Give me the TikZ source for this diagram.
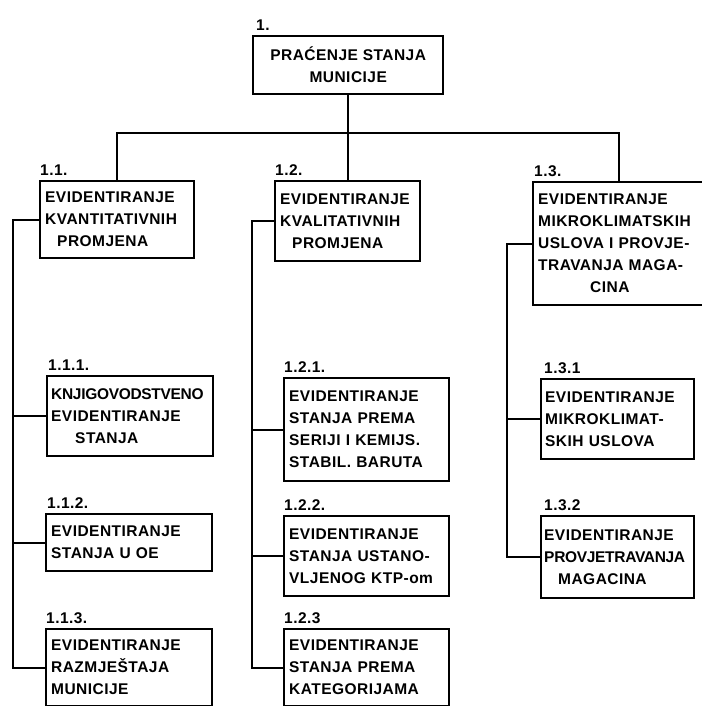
\documentclass[tikz,border=0pt]{standalone}
\usepackage{fontspec}
\setmainfont{Liberation Sans}
\newfontfamily\boxfont[LetterSpace=3]{Liberation Sans Bold}
\newcommand{\tightline}[1]{{\addfontfeature{LetterSpace=-2}#1}}
\usetikzlibrary{positioning}

\tikzset{
	box/.style={draw, line width=2.4pt, anchor=north west, align=left,
		inner xsep=5pt, inner ysep=2pt, font=\boxfont\fontsize{15.5}{22}\selectfont},
	lbl/.style={inner sep=0pt, font=\boxfont\fontsize{15.5}{18}\selectfont},
	conn/.style={line width=1.6pt}
}

\begin{document}
\begin{tikzpicture}[x=1pt,y=1pt]
	\useasboundingbox (0,0) rectangle (701,-706);
	% level 0
	\node[box, align=center, minimum width=190, minimum height=58] (top) at (252,-35) {PRAĆENJE STANJA\\MUNICIJE};
	% level 1
	\node[box, minimum width=154, minimum height=77, text width=144] (b11) at (39,-180) {EVIDENTIRANJE\\KVANTITATIVNIH\\\hspace*{12pt}PROMJENA};
	\node[box, minimum width=145, minimum height=80, text width=135] (b12) at (274,-180) {EVIDENTIRANJE\\KVALITATIVNIH\\\hspace*{12pt}PROMJENA};
	\node[box, minimum width=172, minimum height=123, text width=162] (b13) at (532,-181) {EVIDENTIRANJE\\MIKROKLIMATSKIH\\USLOVA I PROVJE-\\TRAVANJA MAGA-\\\hspace*{52pt}CINA};
	% level 2
	\node[box, minimum width=166, minimum height=80, text width=158, inner xsep=4pt] (b111) at (46,-375) {\tightline{KNJIGOVODSTVENO}\\EVIDENTIRANJE\\\hspace*{24pt}STANJA};
	\node[box, minimum width=166, minimum height=57, text width=156] (b112) at (45,-513) {EVIDENTIRANJE\\STANJA U OE};
	\node[box, minimum width=166, minimum height=77, text width=156] (b113) at (45,-628) {EVIDENTIRANJE\\RAZMJEŠTAJA\\MUNICIJE};
	\node[box, minimum width=165, minimum height=103, text width=155] (b121) at (283,-377) {EVIDENTIRANJE\\STANJA PREMA\\SERIJI I KEMIJS.\\STABIL. BARUTA};
	\node[box, minimum width=165, minimum height=80, text width=155] (b122) at (283,-515) {EVIDENTIRANJE\\STANJA USTANO-\\VLJENOG KTP-om};
	\node[box, minimum width=165, minimum height=77, text width=155] (b123) at (283,-628) {EVIDENTIRANJE\\STANJA PREMA\\KATEGORIJAMA};
	\node[box, minimum width=153, minimum height=80, text width=145, inner xsep=4pt] (b131) at (540,-378) {EVIDENTIRANJE\\MIKROKLIMAT-\\SKIH USLOVA};
	\node[box, minimum width=153, minimum height=82, text width=147, inner xsep=3pt] (b132) at (540,-515) {EVIDENTIRANJE\\\tightline{PROVJETRAVANJA}\\\hspace*{14pt}MAGACINA};
	% numbers
	\node[lbl, above right=4pt and 4pt of top.north west] (l1) {1.};
	\node[lbl, above right=4pt and 1pt of b11.north west] (l11) {1.1.};
	\node[lbl, above right=4pt and 1pt of b12.north west] (l12) {1.2.};
	\node[lbl, above right=4pt and 2pt of b13.north west] (l13) {1.3.};
	\node[lbl, above right=4pt and 2pt of b111.north west] (l111) {1.1.1.};
	\node[lbl, above right=4pt and 2pt of b112.north west] (l112) {1.1.2.};
	\node[lbl, above right=4pt and 1pt of b113.north west] (l113) {1.1.3.};
	\node[lbl, above right=4pt and 1pt of b121.north west] (l121) {1.2.1.};
	\node[lbl, above right=4pt and 1pt of b122.north west] (l122) {1.2.2.};
	\node[lbl, above right=4pt and 1pt of b123.north west] (l123) {1.2.3};
	\node[lbl, above right=4pt and 4pt of b131.north west] (l131) {1.3.1};
	\node[lbl, above right=4pt and 4pt of b132.north west] (l132) {1.3.2};
	% connectors
	\coordinate (bus) at (0,-133);
	\coordinate (s1) at (13,0);
	\coordinate (s2) at (252,0);
	\coordinate (s3) at (507,0);
	\draw[conn] (top.south) -- (top.south |- b12.north);
	\draw[conn] (b11.north) -- (b11.north |- bus) -- (b13.north |- bus) -- (b13.north);
	\draw[conn] (b11.west) -| (s1 |- b113.west) -- (b113.west);
	\draw[conn] (s1 |- b111.west) -- (b111.west);
	\draw[conn] (s1 |- b112.west) -- (b112.west);
	\draw[conn] (b12.west) -| (s2 |- b123.west) -- (b123.west);
	\draw[conn] (s2 |- b121.west) -- (b121.west);
	\draw[conn] (s2 |- b122.west) -- (b122.west);
	\draw[conn] (b13.west) -| (s3 |- b132.west) -- (b132.west);
	\draw[conn] (s3 |- b131.west) -- (b131.west);
\end{tikzpicture}
\end{document}
